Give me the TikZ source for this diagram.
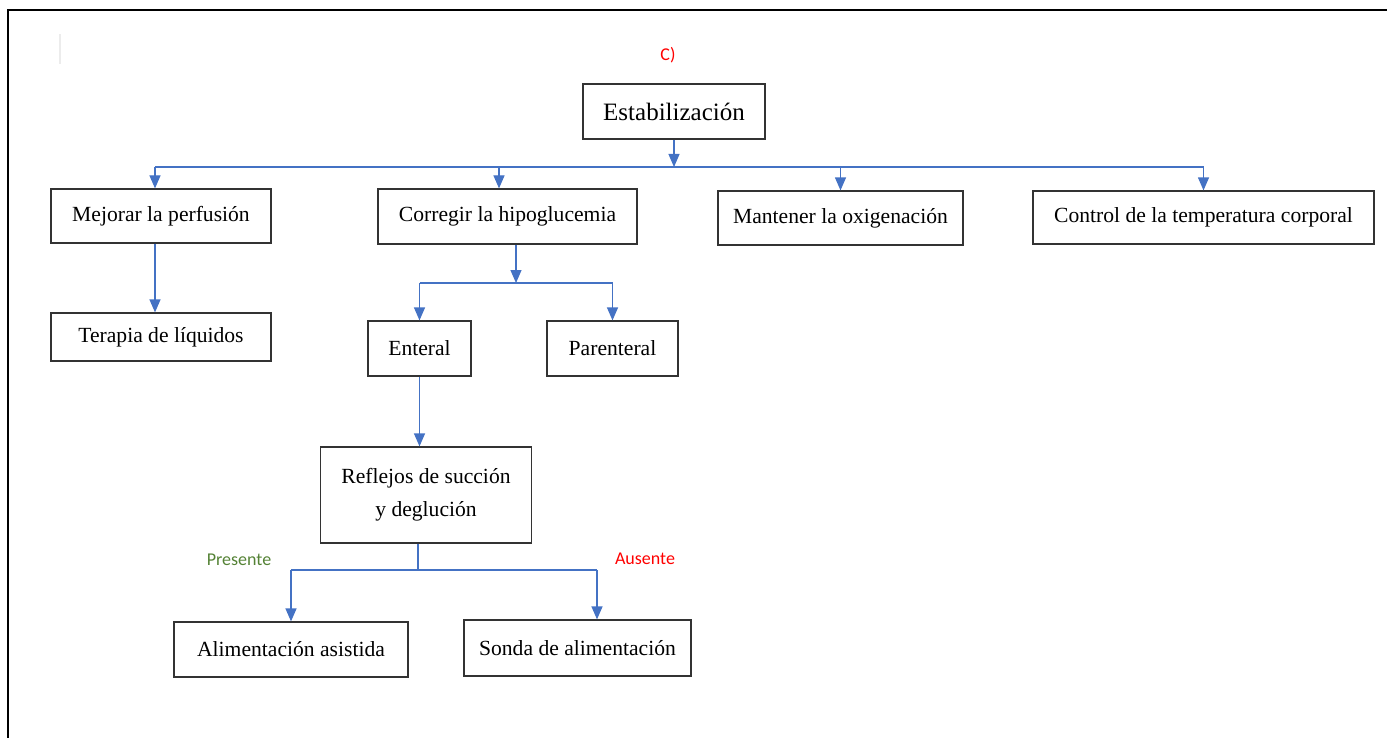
\documentclass[tikz,border=0pt]{standalone}
\usepackage{fontspec}
\setmainfont{Liberation Serif}
\newfontfamily\calibri{Carlito}
\usepackage{tikz}
\usetikzlibrary{
    arrows.meta,
    calc
}
\definecolor{azul}{RGB}{68,114,196}
\definecolor{verde}{RGB}{84,130,53}

\tikzset{
    caja/.style={draw=black!80, line width=0.6pt, inner sep=0pt, align=center,
        font=\fontsize{10.8}{16.5}\selectfont},
    linea/.style={draw=azul, line width=0.6pt},
    flecha/.style={linea, -{Triangle[width=5.5pt,length=6.5pt]}},
    etiqueta/.style={font=\calibri\fontsize{9}{11}\selectfont}
}

\begin{document}
\begin{tikzpicture}[x=0.5pt,y=-0.5pt]
\useasboundingbox (0,0) rectangle (1387,738);

% Frame
\draw[line width=1.1pt] (8,738) -- (8,10) -- (1387,10);
\draw[gray!15, line width=1pt] (60,34) -- (60,64);

% Title
\node[etiqueta, text=red] (tit) at (668,55) {C)};
\node[caja, minimum width=91pt, minimum height=27.5pt, font=\fontsize{12.5}{15}\selectfont] (est) at (674,111.5) {Estabilización};

% First level
\node[caja, minimum width=110pt, minimum height=27pt] (mej) at (161,216) {Mejorar la perfusión};
\node[caja, minimum width=129.5pt, minimum height=27.5pt] (cor) at (507.5,216.5) {Corregir la hipoglucemia};
\node[caja, minimum width=122.5pt, minimum height=27pt] (man) at (840.5,218) {Mantener la oxigenación};
\node[caja, minimum width=170.5pt, minimum height=26.5pt] (ctrl) at (1203.5,217.5) {Control de la temperatura corporal};

% Second level
\node[caja, minimum width=110pt, minimum height=24pt] (ter) at (161,337) {Terapia de líquidos};
\node[caja, minimum width=51.5pt, minimum height=27.5pt] (ent) at (419.5,348.5) {Enteral};
\node[caja, minimum width=65.5pt, minimum height=27.5pt] (par) at (612.5,348.5) {Parenteral};

% Third level
\node[caja, minimum width=105.5pt, minimum height=48pt] (ref) at (426,495) {Reflejos de succión\\y deglución};
\node[caja, minimum width=117pt, minimum height=27.5pt] (ali) at (291,649.5) {Alimentación asistida};
\node[caja, minimum width=113.5pt, minimum height=28pt] (son) at (577.5,648) {Sonda de alimentación};

% Branch labels
\node[etiqueta, text=verde] (pre) at (239,560) {Presente};
\node[etiqueta, text=red] (aus) at (645,559) {Ausente};

% Bus coordinates
\coordinate (n1) at (155,167);
\coordinate (n1b) at (499,167);
\coordinate (n2) at (516,283);
\coordinate (n3) at (418,570);
\coordinate (n3b) at (597,570);

% Connectors
\draw[flecha] (est.south) -- (est.south |- n1);
\draw[linea] (n1) -- (ctrl.north |- n1);
\draw[flecha] (n1) -- (n1 |- mej.north);
\draw[flecha] (n1b) -- (n1b |- cor.north);
\draw[flecha] (man.north |- n1) -- (man.north);
\draw[flecha] (ctrl.north |- n1) -- (ctrl.north);

\draw[flecha] (n1 |- mej.south) -- (n1 |- ter.north);

\draw[flecha] (n2 |- cor.south) -- (n2);
\draw[linea] (ent.north |- n2) -- (par.north |- n2);
\draw[flecha] (ent.north |- n2) -- (ent.north);
\draw[flecha] (par.north |- n2) -- (par.north);

\draw[flecha] (ent.south) -- (ent.south |- ref.north);

\draw[linea] (n3 |- ref.south) -- (n3);
\draw[linea] (n3b) -- (ali.north |- n3);
\draw[flecha] (ali.north |- n3) -- (ali.north);
\draw[flecha] (n3b) -- (n3b |- son.north);

\end{tikzpicture}
\end{document}
